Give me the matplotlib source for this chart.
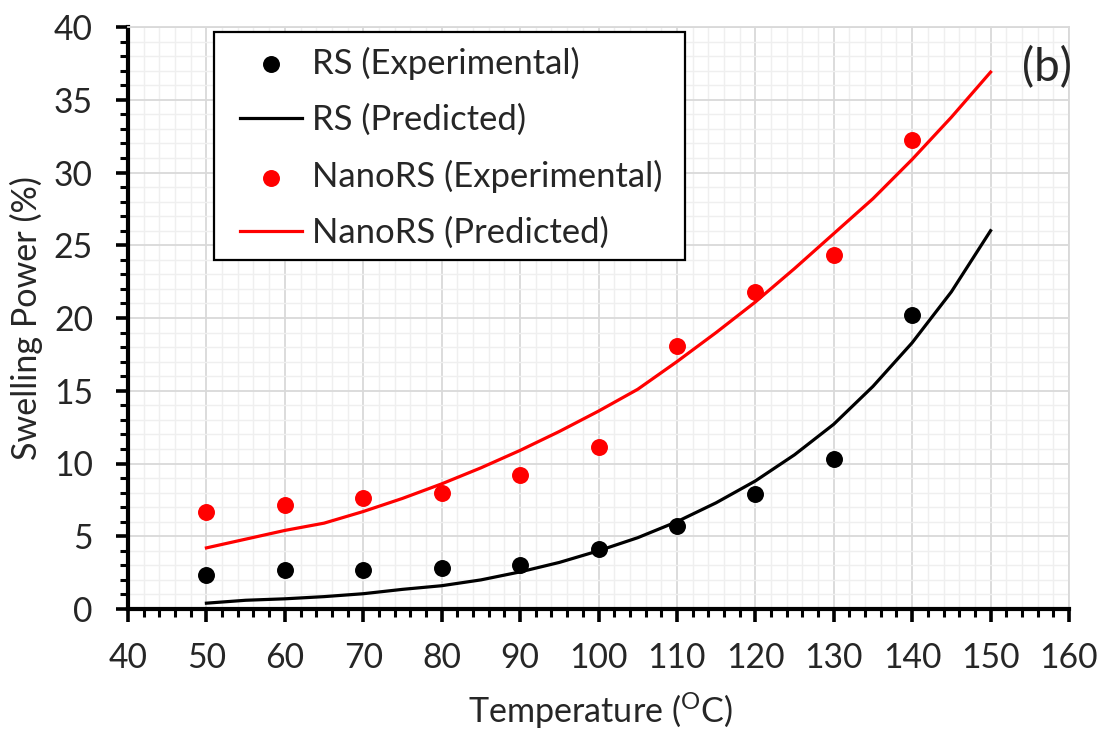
import matplotlib
matplotlib.use("Agg")
import matplotlib.pyplot as plt
from matplotlib.ticker import MultipleLocator
from matplotlib.patches import Rectangle

plt.rcParams['font.family'] = ['Lato', 'DejaVu Sans']
plt.rcParams['mathtext.fontset'] = 'custom'
plt.rcParams['mathtext.rm'] = 'Lato'

# ---------------- data ----------------
temp_exp = [50, 60, 70, 80, 90, 100, 110, 120, 130, 140]
rs_exp = [2.35, 2.7, 2.7, 2.8, 3.0, 4.1, 5.7, 7.9, 10.3, 20.2]
nano_exp = [6.7, 7.15, 7.6, 7.95, 9.2, 11.15, 18.05, 21.8, 24.3, 32.2]

temp_pred = [50, 55, 60, 65, 70, 75, 80, 85, 90, 95, 100,
             105, 110, 115, 120, 125, 130, 135, 140, 145, 150]
rs_pred = [0.4, 0.6, 0.7, 0.85, 1.05, 1.35, 1.6, 2.0, 2.55, 3.2, 4.0,
           4.9, 6.0, 7.3, 8.8, 10.6, 12.7, 15.3, 18.3, 21.8, 26.0]
nano_pred = [4.2, 4.8, 5.4, 5.9, 6.7, 7.6, 8.6, 9.7, 10.9, 12.2, 13.6,
             15.1, 17.0, 19.0, 21.1, 23.4, 25.8, 28.2, 30.9, 33.8, 36.9]

labels = ['RS (Experimental)', 'RS (Predicted)',
          'NanoRS (Experimental)', 'NanoRS (Predicted)']
xlabel_text = r'Temperature ($^{\mathrm{O}}$C)'
ylabel_text = 'Swelling Power (%)'

# ---------------- figure ----------------
W, H = 1113, 733
PX = 100 / 72.0
TXT = '#262626'
fig = plt.figure(figsize=(W / 100, H / 100), dpi=100)
L, R, T, B = 128, 1069, 27, 609
ax = fig.add_axes([L / W, 1 - B / H, (R - L) / W, (B - T) / H])

ax.set_xlim(40, 160)
ax.set_ylim(0, 40)
ax.xaxis.set_major_locator(MultipleLocator(10))
ax.xaxis.set_minor_locator(MultipleLocator(2))
ax.yaxis.set_major_locator(MultipleLocator(5))
ax.yaxis.set_minor_locator(MultipleLocator(1))

ax.grid(which='major', color='#d9d9d9', linewidth=1.3, zorder=0)
ax.grid(which='minor', color='#efefef', linewidth=1.0, zorder=0)
ax.set_axisbelow(True)

for s in ['top', 'right']:
    ax.spines[s].set_color('#d9d9d9')
    ax.spines[s].set_linewidth(1.3)
for s in ['left', 'bottom']:
    ax.spines[s].set_color('black')
    ax.spines[s].set_linewidth(3)

ax.tick_params(which='major', direction='out', length=9, width=2.6, labelcolor=TXT)
ax.tick_params(which='minor', direction='out', length=5.5, width=2.2)

ax.scatter(temp_exp, rs_exp, s=125, color='black', zorder=3, label=labels[0])
ax.plot(temp_pred, rs_pred, color='black', lw=2.3, zorder=3, label=labels[1])
ax.scatter(temp_exp, nano_exp, s=125, color='#ff0000', zorder=3, label=labels[2])
ax.plot(temp_pred, nano_pred, color='#ff0000', lw=2.3, zorder=3, label=labels[3])

fig.canvas.draw()
rend = fig.canvas.get_renderer()


def scale_to(txt, target, dim='w'):
    for _ in range(3):
        bb = txt.get_window_extent(rend)
        cur = bb.width if dim == 'w' else bb.height
        txt.set_fontsize(txt.get_fontsize() * target / cur)
    return txt.get_fontsize()


# tick label size
tmp = fig.text(0.5, 0.5, '40', fontsize=22)
fs_tick = scale_to(tmp, 39)
tmp.remove()
xpad, ypad = 14.0, 14.0
ax.tick_params(which='major', labelsize=fs_tick)
ax.tick_params(axis='x', which='major', pad=xpad)
ax.tick_params(axis='y', which='major', pad=ypad)
for _ in range(2):
    fig.canvas.draw()
    xl = ax.get_xticklabels()[0]
    bb = xl.get_window_extent(rend)
    _, _, lpd = rend.get_text_width_height_descent('lp', xl.get_fontproperties(), ismath=False)
    baseline = bb.y0 + lpd
    xpad += (baseline - (H - 668)) / PX
    yl = ax.get_yticklabels()[0]
    bb = yl.get_window_extent(rend)
    ypad += (bb.x1 - 93) / PX
    ax.tick_params(axis='x', which='major', pad=xpad)
    ax.tick_params(axis='y', which='major', pad=ypad)

# axis labels
xlab = ax.set_xlabel(xlabel_text, color=TXT, fontsize=22, va='baseline', ha='center')
ylab = ax.set_ylabel(ylabel_text, color=TXT, fontsize=22, va='baseline', ha='center')
fig.canvas.draw()
scale_to(xlab, 265, 'w')
scale_to(ylab, 285, 'h')
ax.xaxis.set_label_coords(601 / W, 1 - 723 / H, transform=fig.transFigure)
ax.yaxis.set_label_coords(37 / W, 1 - 318 / H, transform=fig.transFigure)

# panel tag
tag = fig.text(1047 / W, 1 - 68 / H, '(b)', ha='center', va='center', color=TXT, fontsize=22)
scale_to(tag, 50, 'w')

# legend box
box = Rectangle((214 / W, 1 - 260 / H), (685 - 214) / W, (260 - 32) / H,
                transform=fig.transFigure, facecolor='white', edgecolor='black',
                linewidth=1.6, zorder=2)
fig.add_artist(box)

handles, _ = ax.get_legend_handles_labels()
tmp = fig.text(0.5, 0.5, labels[0], fontsize=22)
fs_leg = scale_to(tmp, 267)
tmp.remove()
fs_px = fs_leg * PX


def make_leg(ls, yanc):
    lg = fig.legend(handles, labels, loc='upper left',
                    bbox_to_anchor=(240 / W, yanc), bbox_transform=fig.transFigure,
                    fontsize=fs_leg, frameon=False, borderpad=0, borderaxespad=0,
                    labelspacing=ls, handlelength=62 / fs_px, handletextpad=10 / fs_px,
                    scatterpoints=1)
    lg.set_zorder(5)
    for t in lg.get_texts():
        t.set_color(TXT)
    return lg


ls, yanc = 0.6, 1 - 40 / H
leg = make_leg(ls, yanc)
fig.canvas.draw()
cs = [(t.get_window_extent(rend).y0 + t.get_window_extent(rend).y1) / 2 for t in leg.get_texts()]
spacing = (cs[0] - cs[-1]) / 3.0
ls += (56.7 - spacing) / fs_px
leg.remove()
leg = make_leg(ls, yanc)
fig.canvas.draw()
bb = leg.get_texts()[0].get_window_extent(rend)
c0 = (bb.y0 + bb.y1) / 2
yanc += ((H - 63) - c0) / H
leg.remove()
leg = make_leg(ls, yanc)

fig.savefig('out.png', dpi=100)
